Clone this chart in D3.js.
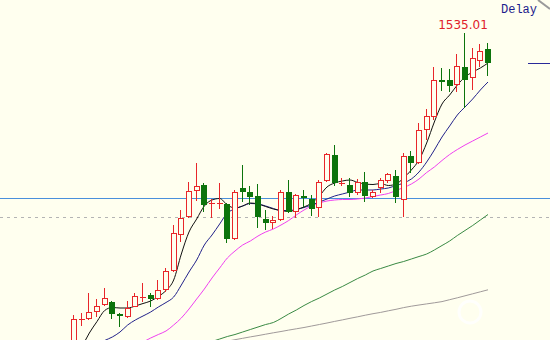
<!DOCTYPE html>
<html>
<head>
<meta charset="utf-8">
<script src="https://cdn.jsdelivr.net/npm/d3@7"></script>
<style>
  html, body { margin: 0; padding: 0; background: #ffffef; }
  svg { display: block; }
</style>
</head>
<body>
<svg id="chart" width="550" height="340"></svg>
<script>
// daily candles, oldest first
var opens  = [1223, 1248.5, 1248.7, 1256.3, 1263, 1265.7, 1253.7, 1251.3, 1261.3, 1270.8,
              1273, 1269, 1278, 1297, 1333, 1351, 1377.3, 1383.5, 1364.2, 1364.3,
              1364, 1328.7, 1380.5, 1376.3, 1372, 1349, 1344.7, 1348, 1376.3, 1356.3,
              1372, 1369.2, 1359.7, 1387, 1413.5, 1384.7, 1383, 1375.5, 1386, 1371.3,
              1379.7, 1387.5, 1391.5, 1368, 1412.5, 1404.7, 1438, 1451, 1487.7, 1488.3,
              1483, 1501, 1489.7, 1507.5, 1518.7];
var highs  = [1253, 1255, 1275.3, 1268.7, 1279.7, 1267.3, 1255.3, 1267.3, 1274.7, 1284.7,
              1275.3, 1288.5, 1300.3, 1343, 1358, 1386.3, 1405, 1385, 1369, 1385.3,
              1365, 1378.5, 1403, 1382, 1384, 1358, 1352, 1378, 1388, 1374,
              1378.5, 1373, 1388, 1415.3, 1423, 1390, 1389.7, 1389.5, 1396.3, 1378,
              1390, 1395.5, 1398, 1414.5, 1417.5, 1445.3, 1459, 1501.3, 1499.7, 1499,
              1514.3, 1535.01, 1519.7, 1524.5, 1525];
var lows   = [1218, 1242, 1248, 1251.3, 1262.3, 1249, 1241.3, 1250.3, 1260.7, 1266.3,
              1260.7, 1268, 1276.3, 1296, 1326.3, 1349.7, 1367, 1356, 1349.7, 1359,
              1325.5, 1328, 1366, 1363, 1340.5, 1338, 1339, 1347, 1354.7, 1350,
              1361.3, 1352, 1351, 1386, 1382, 1382.5, 1371.3, 1373, 1366.3, 1370,
              1374.7, 1385.3, 1365.3, 1351, 1395, 1404, 1428, 1448, 1477, 1476,
              1476, 1459.7, 1478, 1501, 1492];
var closes = [1249, 1249.5, 1256.3, 1262, 1269.7, 1253.7, 1251.7, 1259.7, 1272.3, 1271.5,
              1269, 1278, 1297, 1334.7, 1350.3, 1377, 1382.5, 1363, 1365, 1365.2,
              1329, 1376.3, 1376.3, 1371.3, 1351.3, 1344.7, 1347.7, 1376.3, 1356.3, 1372.5,
              1369.7, 1358.7, 1386.3, 1414, 1385, 1385.5, 1375.5, 1386.5, 1371.5, 1376,
              1388, 1394, 1371.3, 1412.5, 1405.3, 1438, 1452, 1488.3, 1486.5, 1482.5,
              1501.5, 1488, 1509.7, 1517.5, 1504.7];

// moving averages (null = off the visible area)
var ma5  = [1210, 1221, 1235, 1246.5, 1257.5, 1260.5, 1260, 1260, 1262, 1264.5,
            1267, 1271.5, 1277.5, 1288, 1314, 1336, 1349, 1362, 1368, 1369.5,
            1363, 1360, 1362, 1365, 1364, 1361.5, 1359, 1357.5, 1356.5, 1358.5,
            1361, 1365, 1372, 1381, 1385, 1387, 1388, 1385.5, 1384, 1383.5,
            1384.5, 1382.5, 1384, 1390, 1398, 1408, 1425, 1446, 1464, 1473,
            1483, 1491, 1496, 1500, 1505];
var ma10 = [1208, 1213, 1218, 1223, 1227.5, 1231, 1236, 1243, 1248, 1252,
            1256, 1261, 1265.5, 1271, 1283, 1296, 1308, 1323, 1333, 1344,
            1355, 1359, 1362, 1364.5, 1364, 1362, 1359.5, 1357.5, 1357.5, 1358.5,
            1360.5, 1363, 1366, 1369, 1372, 1374, 1376, 1378, 1378, 1378,
            1379, 1380, 1382.5, 1385, 1389, 1396, 1406, 1418, 1431, 1442,
            1453, 1461, 1469, 1478, 1486];
var ma20 = [null, null, null, null, null, null, null, null, 1222, 1226,
            1230, 1233.5, 1237, 1243, 1250, 1259, 1269, 1279, 1290, 1300,
            1310, 1317, 1323, 1327, 1332, 1336, 1339, 1343, 1347.5, 1353,
            1358, 1362, 1365, 1367, 1368, 1368.5, 1368.5, 1369, 1370, 1371.5,
            1373, 1374.5, 1377.5, 1380.5, 1384, 1389, 1395.5, 1401, 1407.5, 1413.5,
            1418.5, 1423, 1427, 1431, 1435];
var ma60 = [null, null, null, null, null, null, null, null, null, null,
            null, null, null, null, null, null, 1221.5, 1224, 1226.5, 1229,
            1231.5, 1233.5, 1236, 1238.5, 1241, 1243.5, 1245.5, 1249.5, 1254, 1258,
            1262.5, 1266.5, 1270, 1274, 1278, 1281.5, 1285.5, 1289.5, 1293, 1297,
            1299.5, 1302, 1304.5, 1306.5, 1309, 1311.5, 1314, 1318, 1322.5, 1327,
            1332.5, 1337.5, 1342.5, 1348, 1353.5];
var ma120 = [null, null, null, null, null, null, null, null, null, null,
             null, null, null, null, null, null, null, null, null, 1225.3,
             1226.8, 1228.3, 1229.7, 1231.1, 1232.4, 1233.8, 1235.2, 1236.5, 1237.9, 1239.2,
             1240.5, 1242, 1243.5, 1245, 1246.6, 1248.1, 1249.7, 1251.2, 1252.8, 1254.3,
             1255.6, 1257.2, 1258.7, 1260.4, 1261.8, 1263, 1264.1, 1265.2, 1266.4, 1268.3,
             1270.2, 1272.2, 1274.2, 1276.2, 1278.2];

// horizontal reference levels
var levelBlue = 1370;
var levelDash = 1351;

var svg = d3.select("#chart"),
    width = +svg.attr("width"),
    height = +svg.attr("height");

var x = d3.scaleLinear().domain([0, closes.length - 1]).range([74, 488]);
var y = d3.scaleLinear().domain([1228, 1568]).range([height, 0]);

var UP = "#e8262a", DOWN = "#0c740c";

svg.append("rect").attr("width", width).attr("height", height).attr("fill", "#ffffef");

// faint watermark
svg.append("circle").attr("cx", 470).attr("cy", 312).attr("r", 11)
    .attr("fill", "none").attr("stroke", "#ffffff").attr("stroke-width", 3).attr("opacity", 0.8);

// level lines
svg.append("line")
    .attr("x1", 0).attr("x2", width)
    .attr("y1", Math.round(y(levelDash)) + 0.5).attr("y2", Math.round(y(levelDash)) + 0.5)
    .attr("stroke", "#b4b4b4").attr("stroke-dasharray", "3,4");
svg.append("line")
    .attr("x1", 0).attr("x2", width)
    .attr("y1", Math.round(y(levelBlue)) + 0.5).attr("y2", Math.round(y(levelBlue)) + 0.5)
    .attr("stroke", "#4a90dc");

// moving averages
var line = d3.line()
    .defined(function(d) { return d != null; })
    .x(function(d, i) { return x(i); })
    .y(function(d) { return y(d); })
    .curve(d3.curveMonotoneX);

[[ma120, "#a09a9a"], [ma60, "#3a8a44"], [ma20, "#f040f0"], [ma10, "#22228a"], [ma5, "#111111"]]
    .forEach(function(s) {
        svg.append("path")
            .attr("d", line(s[0]))
            .attr("fill", "none")
            .attr("stroke", s[1])
            .attr("stroke-width", 1);
    });

// candles
var g = svg.append("g");
closes.forEach(function(c, i) {
    var o = opens[i], h = highs[i], l = lows[i];
    var r = Math.round(x(i));
    var wx = r - 0.5;
    var up = c >= o;
    var col = up ? UP : DOWN;
    var top = Math.round(y(Math.max(o, c))), bot = Math.round(y(Math.min(o, c)));
    var yh = Math.round(y(h)), yl = Math.round(y(l));

    if (bot - top < 2) {
        // doji: a cross
        g.append("line").attr("x1", wx).attr("x2", wx).attr("y1", yh).attr("y2", yl)
            .attr("stroke", col);
        g.append("line").attr("x1", r - 3).attr("x2", r + 3)
            .attr("y1", top + 0.5).attr("y2", top + 0.5).attr("stroke", col);
        return;
    }
    if (up) {
        g.append("line").attr("x1", wx).attr("x2", wx).attr("y1", yh).attr("y2", top)
            .attr("stroke", col);
        g.append("line").attr("x1", wx).attr("x2", wx).attr("y1", bot).attr("y2", yl)
            .attr("stroke", col);
        g.append("rect")
            .attr("x", r - 2.5).attr("y", top + 0.5)
            .attr("width", 5).attr("height", bot - top - 1)
            .attr("fill", "#ffffef").attr("stroke", col);
    } else {
        g.append("line").attr("x1", wx).attr("x2", wx).attr("y1", yh).attr("y2", yl)
            .attr("stroke", col);
        g.append("rect")
            .attr("x", r - 3).attr("y", top)
            .attr("width", 6).attr("height", bot - top)
            .attr("fill", col);
    }
});

// last close marker at right edge
var last = closes[closes.length - 1];
svg.append("line")
    .attr("x1", 528).attr("x2", width)
    .attr("y1", Math.round(y(last)) + 0.5).attr("y2", Math.round(y(last)) + 0.5)
    .attr("stroke", "#2a2a9a");

// highest high label
var hiIdx = d3.maxIndex(highs);
svg.append("text")
    .attr("x", x(hiIdx) - 2)
    .attr("y", y(highs[hiIdx]) - 4)
    .attr("text-anchor", "middle")
    .attr("font-family", "DejaVu Sans, Verdana, sans-serif")
    .attr("font-size", 12)
    .attr("fill", "#e0202a")
    .text(d3.format(".2f")(highs[hiIdx]));

svg.append("text")
    .attr("x", 501).attr("y", 13)
    .attr("font-family", "Liberation Mono, Courier New, monospace")
    .attr("font-size", 12)
    .attr("fill", "#1c1c8c")
    .text("Delay");

// folded corner
svg.append("line")
    .attr("x1", 538).attr("y1", 0).attr("x2", 550).attr("y2", 9)
    .attr("stroke", "#9a9a9a").attr("stroke-width", 2);
</script>
</body>
</html>
